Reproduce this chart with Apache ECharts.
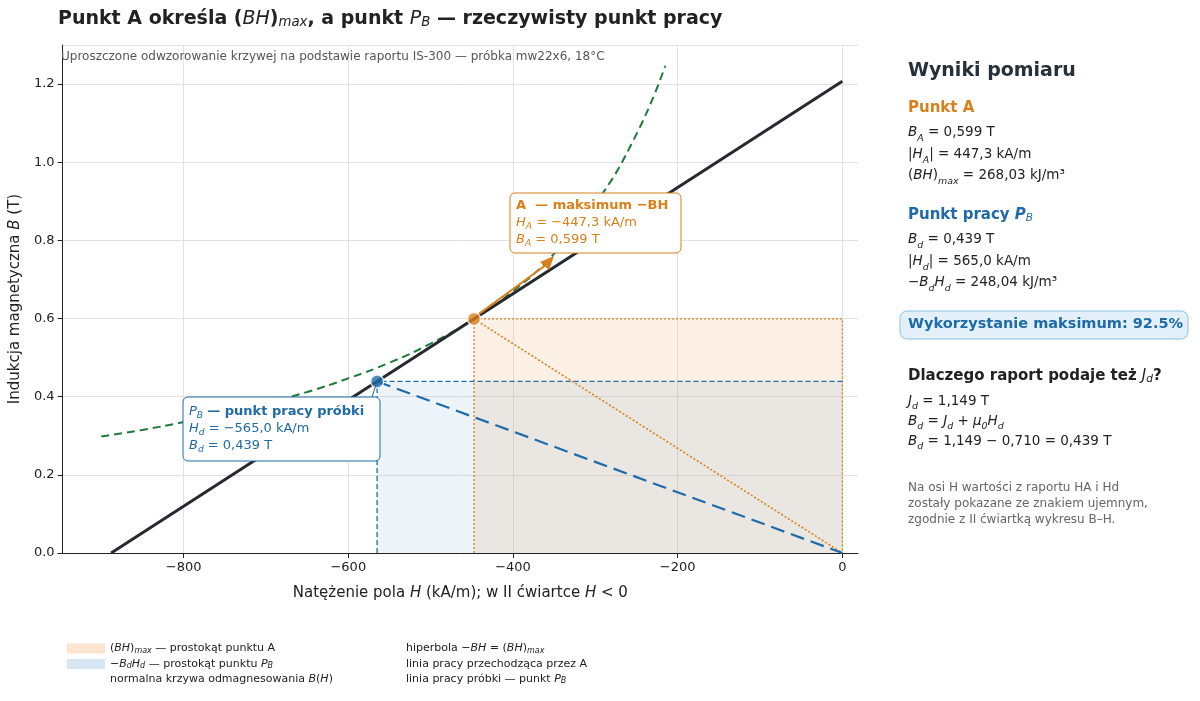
<!DOCTYPE html>
<html><head><meta charset="utf-8">
<script src="https://cdn.jsdelivr.net/npm/echarts@6/dist/echarts.min.js"></script>
<style>html,body{margin:0;padding:0;background:#fff}#c{width:1200px;height:701px}</style>
</head><body><div id="c"></div>
<script>
const pointA = [-447.3, 0.599];
const pointPB = [-565.0, 0.439];
const demagLine = [[-888, 0], [0, 1.207]];
const hyperH = [-900,-850,-800,-750,-700,-650,-600,-550,-500,-450,-400,-350,-300,-250,-215];
const hyperB = [0.298,0.315,0.335,0.357,0.383,0.412,0.447,0.487,0.536,0.596,0.670,0.766,0.893,1.072,1.247];
const xTicks = [-800,-600,-400,-200,0];
const origin = [0, 0];

const F = 'DejaVu Sans';
const ch = echarts.init(document.getElementById('c'));
const rich = {
  i:{fontStyle:'italic',fontFamily:F,fontSize:11},
  s:{fontStyle:'italic',fontFamily:F,fontSize:8,verticalAlign:'bottom',padding:[4,0,0,0]},
  t:{fontFamily:F,fontSize:11}
};
const opt = {
  animation:false,
  grid:{left:58,right:342,top:45,bottom:148},
  xAxis:{type:'value',min:-947,max:19,
    axisLine:{onZero:false,lineStyle:{color:'#222'}},axisTick:{customValues:xTicks,lineStyle:{color:'#222'}},
    axisLabel:{customValues:xTicks,color:'#222',fontFamily:F,fontSize:13,formatter:v=>v<0?'−'+(-v):v},
    splitLine:{show:true,lineStyle:{color:'#e2e2e2'}},
    name:'Natężenie pola {i|H} (kA/m); w II ćwiartce {i|H} < 0',nameLocation:'middle',nameGap:33,
    nameTextStyle:{fontFamily:F,fontSize:15,color:'#222',rich:{i:{fontStyle:'italic',fontSize:15,fontFamily:F}}}},
  yAxis:{type:'value',min:0,max:1.3,interval:0.2,
    axisLine:{show:true,onZero:false,lineStyle:{color:'#222'}},axisTick:{show:true,lineStyle:{color:'#222'}},
    axisLabel:{showMaxLabel:false,color:'#222',fontFamily:F,fontSize:13,formatter:v=>v.toFixed(1)},
    splitLine:{lineStyle:{color:'#e2e2e2'}},
    name:'Indukcja magnetyczna {i|B} (T)',nameLocation:'middle',nameGap:38,
    nameTextStyle:{fontFamily:F,fontSize:15,color:'#222',rich:{i:{fontStyle:'italic',fontSize:15,fontFamily:F}}}},
  legend:[
    {left:62,top:638,orient:'vertical',itemGap:4,itemWidth:38,itemHeight:10,textStyle:{fontFamily:F,fontSize:11,color:'#222',rich},
     data:[{name:'a',icon:'rect'},{name:'b',icon:'rect'},{name:'c',icon:'none'}],
     formatter:n=>({a:'({i|BH}){s|max} — prostokąt punktu A',b:'−{i|B}{s|d}{i|H}{s|d} — prostokąt punktu {i|P}{s|B}',c:'normalna krzywa odmagnesowania {i|B}({i|H})'})[n]},
    {left:358,top:638,orient:'vertical',itemGap:4,itemWidth:38,itemHeight:10,textStyle:{fontFamily:F,fontSize:11,color:'#222',rich},
     data:[{name:'d',icon:'none'},{name:'e',icon:'none'},{name:'f',icon:'none'}],
     formatter:n=>({d:'hiperbola −{i|BH} = ({i|BH}){s|max}',e:'linia pracy przechodząca przez A',f:'linia pracy próbki — punkt {i|P}{s|B}'})[n]}
  ],
  series:[
    {name:'a',type:'line',data:[[pointA[0],pointA[1]],[0,pointA[1]]],symbol:'none',lineStyle:{width:0},
     itemStyle:{color:'rgba(245,180,120,0.35)'},areaStyle:{color:'rgba(245,170,100,0.25)',origin:'start'},z:1},
    {name:'b',type:'line',data:[[pointPB[0],pointPB[1]],[0,pointPB[1]]],symbol:'none',lineStyle:{width:0},
     itemStyle:{color:'rgba(170,200,230,0.45)'},areaStyle:{color:'rgba(120,170,215,0.2)',origin:'start'},z:1},
    {type:'line',data:[[pointA[0],0],[pointA[0],pointA[1]],[0,pointA[1]],[0,0]],symbol:'none',silent:true,
     lineStyle:{color:'#d9801a',width:1.3,type:[2,2]},z:2},
    {type:'line',data:[[pointPB[0],0],[pointPB[0],pointPB[1]],[0,pointPB[1]]],symbol:'none',silent:true,
     lineStyle:{color:'#1f6aa8',width:1.3,type:[5,3]},z:2},
    {name:'c',type:'line',data:demagLine,symbol:'none',lineStyle:{color:'#262a30',width:3},itemStyle:{color:'#262a30'},z:4},
    {name:'d',type:'line',data:hyperH.map((h,i)=>[h,hyperB[i]]),symbol:'none',smooth:true,
     lineStyle:{color:'#1f7a3c',width:2,type:[8,5]},itemStyle:{color:'#1f7a3c'},z:3},
    {name:'e',type:'line',data:[pointA,origin],symbol:'none',lineStyle:{color:'#d9801a',width:1.6,type:[2,2]},itemStyle:{color:'#d9801a'},z:3},
    {name:'f',type:'line',data:[pointPB,origin],symbol:'none',lineStyle:{color:'#1f6aa8',width:2.2,type:[14,7]},itemStyle:{color:'#1f6aa8'},z:3},
    {type:'scatter',data:[pointA],symbolSize:13,itemStyle:{color:'#d9801a',borderColor:'#fff',borderWidth:1.5},z:6},
    {type:'scatter',data:[pointPB],symbolSize:13,itemStyle:{color:'#1f6aa8',borderColor:'#fff',borderWidth:1.5},z:6}
  ]
};
ch.setOption(opt);
const pA = ch.convertToPixel({gridIndex:0},pointA);
const pB = ch.convertToPixel({gridIndex:0},pointPB);
const R = (c,sz)=>({
  i:{fontStyle:'italic',fontFamily:F,fontSize:sz,fill:c},
  s:{fontStyle:'italic',fontFamily:F,fontSize:sz*0.7,fill:c,verticalAlign:'bottom',padding:[sz*0.35,0,0,0]},
  b:{fontWeight:'bold',fontFamily:F,fontSize:sz,fill:c},
  bi:{fontWeight:'bold',fontStyle:'italic',fontFamily:F,fontSize:sz,fill:c},
  bs:{fontStyle:'italic',fontFamily:F,fontSize:sz*0.7,fill:c,verticalAlign:'bottom',padding:[sz*0.35,0,0,0]}
});
const txt=(x,y,t,o)=>({type:'text',left:x,top:y,z:100,style:Object.assign({text:t,fontFamily:F,fontSize:14,fill:'#222'},o)});
const dark='#222', orng='#d9801a', blue='#1f6aa8';
const g=[
  txt(58,10,'Punkt A określa ({i|BH}){s|max}, a punkt {i|P}{s|B} — rzeczywisty punkt pracy',{fontSize:19,fontWeight:'bold',rich:Object.assign(R(dark,19),{i:{fontStyle:'italic',fontSize:19,fontFamily:F,fill:dark}})}),
  txt(61,51,'Uproszczone odwzorowanie krzywej na podstawie raportu IS-300 — próbka mw22x6, 18°C',{fontSize:12,fill:'#555'}),
  {type:'line',z:90,shape:{x1:550,y1:262,x2:pA[0]+5,y2:pA[1]-5},style:{stroke:orng,lineWidth:2}},
  {type:'polygon',z:90,shape:{points:[[554,256],[540,262],[549,270]]},style:{fill:orng}},
  {type:'rect',z:95,shape:{x:510,y:193,width:171,height:60,r:5},style:{fill:'#fff',stroke:orng,lineWidth:1}},
  txt(516,197,'{b|A  — maksimum −BH}\n{i|H}{s|A} = −447,3 kA/m\n{i|B}{s|A} = 0,599 T',{fontSize:13,fill:orng,lineHeight:17,rich:R(orng,13)}),
  {type:'line',z:90,shape:{x1:pB[0],y1:pB[1],x2:372,y2:397},style:{stroke:blue,lineWidth:1}},
  {type:'rect',z:95,shape:{x:183,y:397,width:197,height:64,r:5},style:{fill:'#fff',stroke:blue,lineWidth:1}},
  txt(189,403,'{i|P}{s|B} {b|— punkt pracy próbki}\n{i|H}{s|d} = −565,0 kA/m\n{i|B}{s|d} = 0,439 T',{fontSize:13,fill:blue,lineHeight:17,rich:R(blue,13)}),
  txt(908,62,'Wyniki pomiaru',{fontSize:19,fontWeight:'bold',fill:'#263038'}),
  txt(908,101,'Punkt A',{fontSize:15,fontWeight:'bold',fill:orng}),
  txt(908,122,'{i|B}{s|A} = 0,599 T\n|{i|H}{s|A}| = 447,3 kA/m\n({i|BH}){s|max} = 268,03 kJ/m³',{fontSize:13.5,lineHeight:21.5,fill:dark,rich:R(dark,13.5)}),
  txt(908,208,'Punkt pracy {bi|P}{bs|B}',{fontSize:15,fontWeight:'bold',fill:blue,rich:R(blue,15)}),
  txt(908,229,'{i|B}{s|d} = 0,439 T\n|{i|H}{s|d}| = 565,0 kA/m\n−{i|B}{s|d}{i|H}{s|d} = 248,04 kJ/m³',{fontSize:13.5,lineHeight:21.5,fill:dark,rich:R(dark,13.5)}),
  {type:'rect',z:95,shape:{x:900,y:311,width:288,height:28,r:7},style:{fill:'#e3f0fa',stroke:'#8dbfe3',lineWidth:1}},
  txt(908,317,'Wykorzystanie maksimum: 92.5%',{fontSize:14.5,fontWeight:'bold',fill:blue}),
  txt(908,369,'Dlaczego raport podaje też {i|J}{s|d}?',{fontSize:15,fontWeight:'bold',fill:dark,rich:R(dark,15)}),
  txt(908,391,'{i|J}{s|d} = 1,149 T\n{i|B}{s|d} = {i|J}{s|d} + {i|μ}{s|0}{i|H}{s|d}\n{i|B}{s|d} = 1,149 − 0,710 = 0,439 T',{fontSize:13.5,lineHeight:20,fill:dark,rich:R(dark,13.5)}),
  txt(908,480,'Na osi H wartości z raportu HA i Hd\nzostały pokazane ze znakiem ujemnym,\nzgodnie z II ćwiartką wykresu B–H.',{fontSize:12,lineHeight:16,fill:'#666'})
];
ch.setOption({graphic:g});
</script></body></html>
